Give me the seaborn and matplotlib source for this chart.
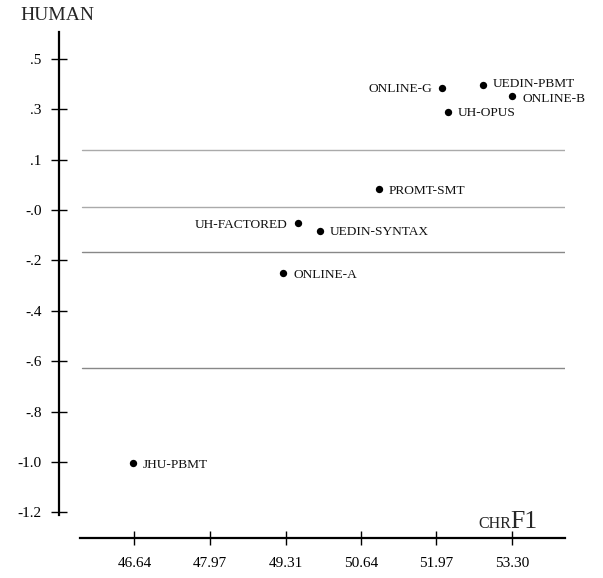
import matplotlib
matplotlib.use("Agg")
import matplotlib.pyplot as plt
import seaborn as sns
import pandas as pd

systems = ["ONLINE-G", "UEDIN-PBMT", "ONLINE-B", "UH-OPUS", "PROMT-SMT",
           "UH-FACTORED", "UEDIN-SYNTAX", "ONLINE-A", "JHU-PBMT"]
chrf1 = [52.07, 52.79, 53.31, 52.17, 50.96, 49.52, 49.92, 49.27, 46.62]
human = [0.485, 0.496, 0.452, 0.390, 0.082, -0.053, -0.082, -0.251, -1.005]
label_side = ["left", "right", "right", "right", "right", "left", "right", "right", "right"]
label_dy = [0, 1.5, -0.8, 0, 0, 0, 0, 0, 0]

cluster_lines = [0.238, 0.013, -0.167, -0.628]
line_colors = ["#aaaaaa", "#aaaaaa", "#888888", "#888888"]

xticks = [46.64, 47.97, 49.31, 50.64, 51.97, 53.30]
xtick_labels = ["46.64", "47.97", "49.31", "50.64", "51.97", "53.30"]
yticks = [0.6, 0.4, 0.2, 0.0, -0.2, -0.4, -0.6, -0.8, -1.0, -1.2]
ytick_labels = [".5", ".3", ".1", "-.0", "-.2", "-.4", "-.6", "-.8", "-1.0", "-1.2"]

df = pd.DataFrame({"system": systems, "chrF1": chrf1, "human": human,
                   "side": label_side, "dy": label_dy})

sns.set_theme(style="ticks")
plt.rcParams["font.family"] = ["Liberation Serif", "DejaVu Serif"]

fig = plt.figure(figsize=(6.03, 5.78), dpi=100)
ax = fig.add_axes([80 / 603, 1 - 538 / 578, (565 - 80) / 603, (538 - 32) / 578])

for yv, c in zip(cluster_lines, line_colors):
    ax.axhline(yv, color=c, lw=1.0, xmin=0.004, xmax=1.0, zorder=1)

sns.scatterplot(data=df, x="chrF1", y="human", ax=ax, color="black", s=28,
                edgecolor="black", linewidth=0, zorder=3, legend=False)

for _, r in df.iterrows():
    if r["side"] == "left":
        ax.annotate(r["system"], (r["chrF1"], r["human"]), xytext=(-7, r["dy"]),
                    textcoords="offset points", ha="right", va="center_baseline",
                    fontsize=9.6, color="#111111")
    else:
        ax.annotate(r["system"], (r["chrF1"], r["human"]), xytext=(7, r["dy"]),
                    textcoords="offset points", ha="left", va="center_baseline",
                    fontsize=9.6, color="#111111")

ax.set_xlim(45.68, 54.24)
ax.set_ylim(-1.302, 0.706)

ax.set_xticks(xticks)
ax.set_xticklabels(xtick_labels)
ax.set_yticks(yticks)
ax.set_yticklabels(ytick_labels)

ax.spines["top"].set_visible(False)
ax.spines["right"].set_visible(False)
ax.spines["left"].set_position(("outward", 15.1))
ax.spines["left"].set_bounds(-1.21, 0.706)
for s in ["left", "bottom"]:
    ax.spines[s].set_linewidth(1.6)
    ax.spines[s].set_color("black")

ax.tick_params(axis="y", direction="inout", length=12, width=1.0, pad=6.5,
               labelsize=11, colors="black")
ax.tick_params(axis="x", direction="inout", length=10, width=1.0, pad=8.5,
               labelsize=11, colors="black")

ax.set_xlabel("")
ax.set_ylabel("")

fig.text(20 / 603, 1 - 16 / 578, "HUMAN", fontsize=14, ha="left", va="center")
fig.text(478 / 603, 1 - 528 / 578, "CHR", fontsize=11.5, ha="left", va="baseline")
fig.text(510 / 603, 1 - 528 / 578, "F1", fontsize=18.5, ha="left", va="baseline")

fig.savefig("out.png", dpi=100)
